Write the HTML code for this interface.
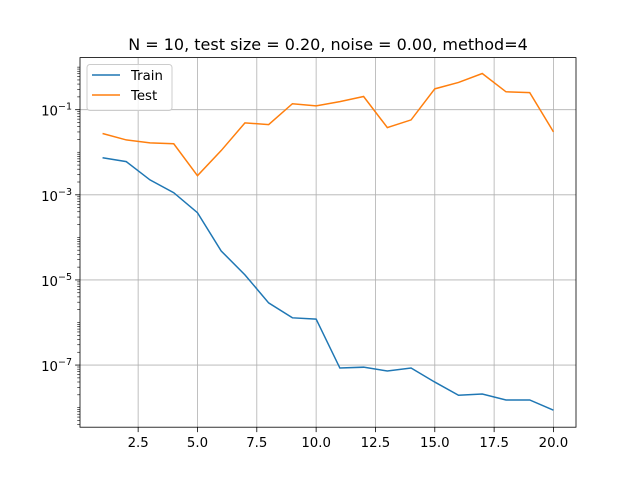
<!DOCTYPE html>
<html><head><meta charset="utf-8"><style>
body{margin:0;background:#fff;}
svg{display:block;font-family:"DejaVu Sans","Liberation Sans",sans-serif;}
</style></head><body>
<svg id="chart" width="640" height="480"></svg>
<script>
const xs=[1,2,3,4,5,6,7,8,9,10,11,12,13,14,15,16,17,18,19,20];
const trainLog=[-2.13,-2.22,-2.65,-2.95,-3.42,-4.32,-4.88,-5.54,-5.89,-5.92,-7.07,-7.05,-7.14,-7.07,-7.40,-7.71,-7.68,-7.82,-7.82,-8.06];
const testLog=[-1.56,-1.71,-1.78,-1.80,-2.55,-1.96,-1.31,-1.35,-0.86,-0.91,-0.81,-0.69,-1.42,-1.24,-0.51,-0.36,-0.15,-0.58,-0.60,-1.52];
const train=trainLog.map(v=>Math.pow(10,v));
const test=testLog.map(v=>Math.pow(10,v));
const xTicks=[2.5,5.0,7.5,10.0,12.5,15.0,17.5,20.0];
const yTicks=[-1,-3,-5,-7];

const L=80,R=576,T=57.6,B=427.2;
const xmin=0.05,xmax=20.95,ymin=-8.46,ymax=0.224;
const X=v=>L+(v-xmin)/(xmax-xmin)*(R-L);
const Y=v=>B-(Math.log10(v)-ymin)/(ymax-ymin)*(B-T);
const YL=l=>B-(l-ymin)/(ymax-ymin)*(B-T);
const svg=document.getElementById('chart');
const NS='http://www.w3.org/2000/svg';
function mk(tag,attrs,parent){const e=document.createElementNS(NS,tag);for(const k in attrs)e.setAttribute(k,attrs[k]);(parent||svg).appendChild(e);return e;}

xTicks.forEach(t=>{
  const g=mk('line',{x1:X(t),x2:X(t),y1:T,y2:B,stroke:'#b0b0b0','stroke-width':0.8});
  
  
  const tk=mk('line',{x1:X(t),x2:X(t),y1:B,y2:B+4.9,stroke:'#000','stroke-width':0.8});
  
  
  const tx=mk('text',{x:X(t),y:B+20,'text-anchor':'middle','font-size':13.3});
  tx.textContent=t.toFixed(1);
  
  
});
yTicks.forEach(t=>{
  const g=mk('line',{x1:L,x2:R,y1:YL(t),y2:YL(t),stroke:'#b0b0b0','stroke-width':0.8});
  
  
  const tk=mk('line',{x1:L-4.9,x2:L,y1:YL(t),y2:YL(t),stroke:'#000','stroke-width':0.8});
  
  
  const tx=mk('text',{x:L-8,y:YL(t)+6,'text-anchor':'end','font-size':13.3});
  tx.textContent='10';
  const sp=mk('tspan',{dy:-6,'font-size':9.5},tx);sp.textContent='\u2212'+Math.abs(t);
  
  
});
for(let d=-9;d<=0;d++){for(let m=2;m<10;m++){const l=d+Math.log10(m);if(l<ymin||l>ymax)continue;
  const mt=mk('line',{x1:L-2.8,x2:L,y1:YL(l),y2:YL(l),stroke:'#000','stroke-width':0.6});
  
  }}
for(let d=-8;d<=0;d+=2){if(d<ymin)continue;
  const mt=mk('line',{x1:L-2.8,x2:L,y1:YL(d),y2:YL(d),stroke:'#000','stroke-width':0.6});
  
  }

function line(vals,color,name){
  const p=mk('polyline',{points:xs.map((x,i)=>X(x)+','+Y(vals[i])).join(' '),fill:'none',stroke:color,'stroke-width':1.5});
  
  
}
line(train,'#1f77b4','train-line');
line(test,'#ff7f0e','test-line');

const fr=mk('rect',{x:L,y:T,width:R-L,height:B-T,fill:'none',stroke:'#000','stroke-width':0.8});



const ti=mk('text',{x:(L+R)/2,y:50,'text-anchor':'middle','font-size':16});
ti.textContent='N = 10, test size = 0.20, noise = 0.00, method=4';



const lg=mk('g',{});


mk('rect',{x:87,y:64.5,width:85,height:46,rx:3,fill:'#fff','fill-opacity':0.8,stroke:'#ccc','stroke-width':1},lg);
[['Train','#1f77b4',79],['Test','#ff7f0e',99]].forEach(([n,c,y])=>{
  const e=mk('g',{},lg);
  
  
  mk('line',{x1:92,x2:120,y1:y-4,y2:y-4,stroke:c,'stroke-width':1.5},e);
  const t=mk('text',{x:131,y:y+1,'font-size':13.3},e);t.textContent=n;
});
</script>
</body></html>
